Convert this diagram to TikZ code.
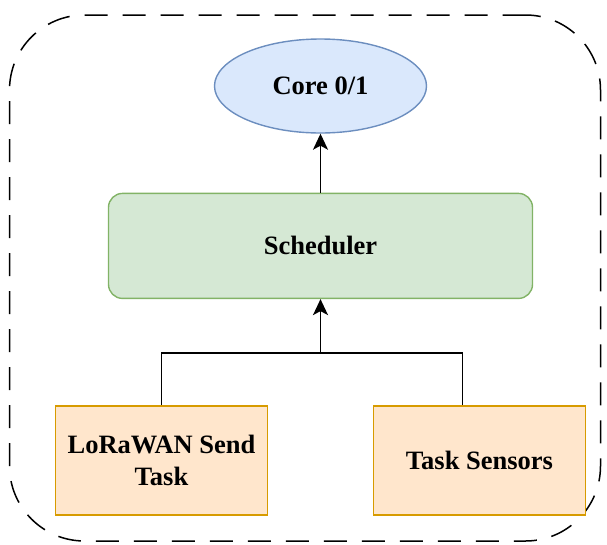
\documentclass[tikz,border=0pt]{standalone}
\usepackage{fontspec}
\setmainfont{Liberation Serif}
\usetikzlibrary{shapes.geometric, arrows.meta, positioning, calc}

\definecolor{coreFill}{HTML}{DAE8FC}
\definecolor{coreDraw}{HTML}{6C8EBF}
\definecolor{schedFill}{HTML}{D5E8D4}
\definecolor{schedDraw}{HTML}{82B366}
\definecolor{taskFill}{HTML}{FFE6CC}
\definecolor{taskDraw}{HTML}{D79B00}

\begin{document}
\begin{tikzpicture}[
    x=1pt, y=1pt,
    core/.style={ellipse, draw=coreDraw, fill=coreFill, line width=1.4pt, minimum width=212pt, minimum height=94pt, inner sep=0pt, font=\fontsize{26.5}{32}\selectfont\bfseries},
    sched/.style={rectangle, draw=schedDraw, fill=schedFill, rounded corners=14pt, line width=1.4pt, minimum width=424pt, minimum height=105pt, font=\fontsize{26.5}{32}\selectfont\bfseries},
    task/.style={rectangle, draw=taskDraw, fill=taskFill, line width=1.4pt, minimum width=212pt, minimum height=109pt, align=center, font=\fontsize{26.5}{32}\selectfont\bfseries},
    frame/.style={rectangle, draw, dash pattern=on 23pt off 15pt, rounded corners=75pt, line width=1.5pt, minimum width=591pt, minimum height=526pt},
    link/.style={line width=1.8pt},
    arr/.style={link, -{Stealth[length=16pt, width=15pt, inset=4pt]}}
]
\useasboundingbox (0,0) rectangle (607,-544);

% Outer dashed frame
\node[frame] (frame) at (305,-278) {};

% Core
\node[core] (core) at (320.5,-86) {Core 0/1};

% Scheduler
\node[sched, below=59pt of core] (sched) {Scheduler};

% Tasks
\node[task, below=106pt of sched, xshift=-159pt] (lora) {LoRaWAN Send\\Task};
\node[task, below=106pt of sched, xshift=159pt] (sensors) {Task Sensors};

% Connectors
\coordinate (join) at ($(sched.south)+(0,-54)$);
\coordinate (sensTop) at ($(sensors.north)+(-17,0)$);
\draw[link] (lora.north) |- (join);
\draw[link] (sensTop) |- (join);
\draw[arr] (join) -- (sched.south);
\draw[arr] (sched.north) -- (core.south);

\end{tikzpicture}
\end{document}
